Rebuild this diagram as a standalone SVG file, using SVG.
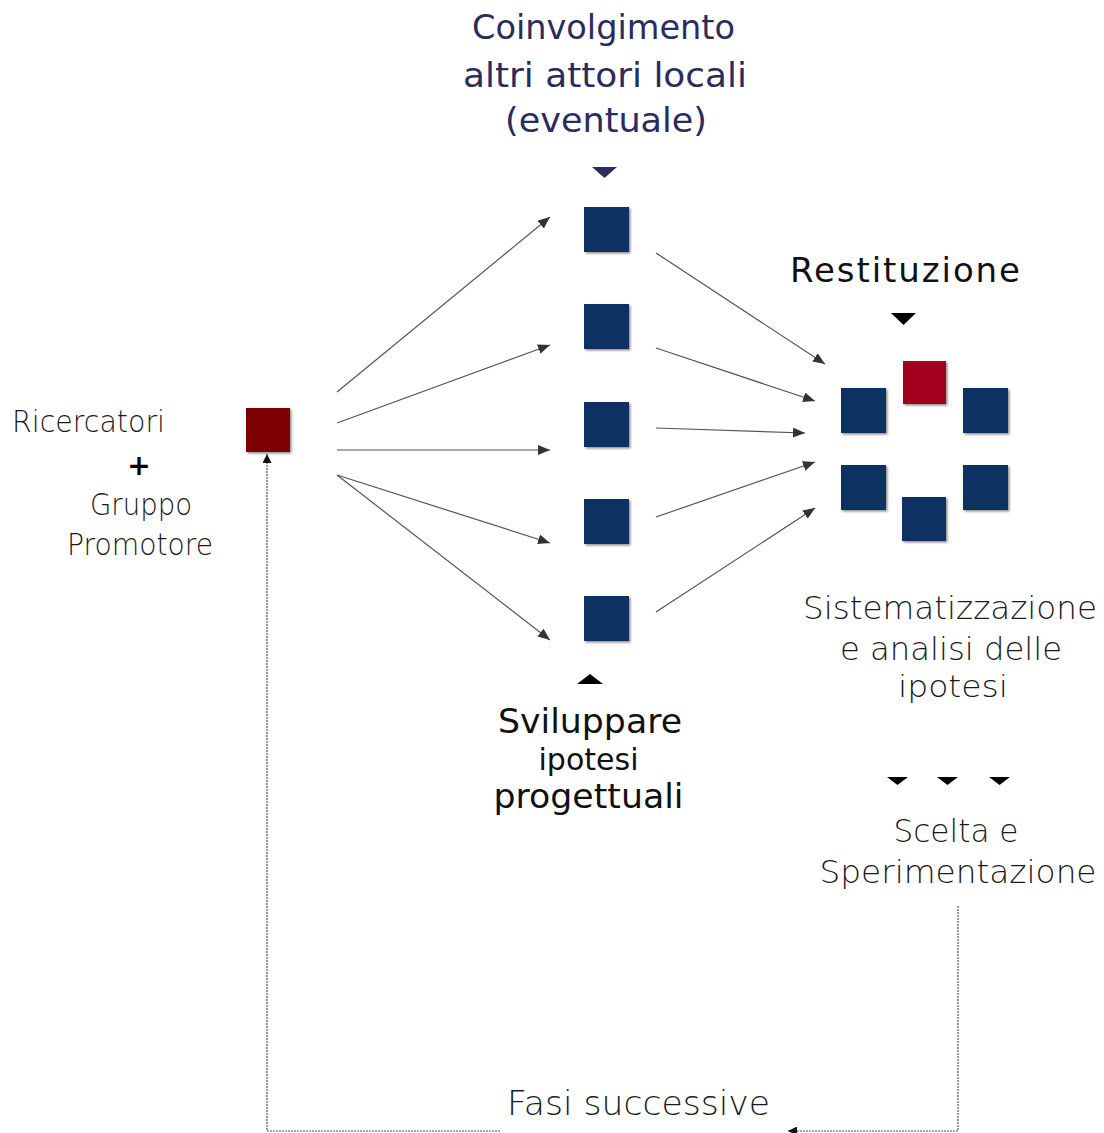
<svg xmlns="http://www.w3.org/2000/svg" width="1104" height="1133" viewBox="0 0 1104 1133">
<style>
.navy{fill:#2b2b60;font-family:"DejaVu Sans",sans-serif;font-size:33px;text-anchor:middle}
.reg{fill:#111;font-family:"DejaVu Sans",sans-serif;font-size:34px;text-anchor:middle}
.thin{fill:#1a1a1a;font-family:"DejaVu Sans",sans-serif;font-weight:200;font-size:32px;text-anchor:middle}
.blue{fill:#073262}
.arr{stroke:#555;stroke-width:1.2;fill:none}
.dot{stroke:#555;stroke-width:1.2;fill:none;stroke-dasharray:2 1}
</style>
<defs>
<filter id="sh" x="-10%" y="-10%" width="130%" height="130%">
<feDropShadow dx="1.5" dy="1.5" stdDeviation="1" flood-color="#000" flood-opacity="0.45"/>
</filter>
<marker id="ah" viewBox="0 0 12 10" refX="12" refY="5" markerWidth="12" markerHeight="10" markerUnits="userSpaceOnUse" orient="auto">
<path d="M0,0 L12,5 L0,10 Z" fill="#333"/>
</marker>
<marker id="ahs" viewBox="0 0 10 10" refX="10" refY="5" markerWidth="10" markerHeight="9" markerUnits="userSpaceOnUse" orient="auto">
<path d="M0,0 L10,5 L0,10 Z" fill="#111"/>
</marker>
</defs>

<g id="connectors">
<line class="arr" x1="337" y1="392" x2="550" y2="217" marker-end="url(#ah)"/>
<line class="arr" x1="337" y1="423" x2="550" y2="345" marker-end="url(#ah)"/>
<line class="arr" x1="337" y1="450" x2="550" y2="450" marker-end="url(#ah)"/>
<line class="arr" x1="337" y1="475" x2="550" y2="543" marker-end="url(#ah)"/>
<line class="arr" x1="337" y1="475" x2="550" y2="640" marker-end="url(#ah)"/>
<line class="arr" x1="656" y1="253" x2="825" y2="364" marker-end="url(#ah)"/>
<line class="arr" x1="656" y1="348" x2="815" y2="401" marker-end="url(#ah)"/>
<line class="arr" x1="656" y1="428" x2="805" y2="433" marker-end="url(#ah)"/>
<line class="arr" x1="656" y1="517" x2="815" y2="462" marker-end="url(#ah)"/>
<line class="arr" x1="656" y1="612" x2="815" y2="508" marker-end="url(#ah)"/>
<polyline class="dot" points="500,1131 267,1131 267,454" marker-end="url(#ahs)"/>
<polyline class="dot" points="958,906 958,1131 788,1131" marker-end="url(#ahs)"/>
</g>

<g id="markers">
<path d="M592,167 L617,167 L604.5,178 Z" fill="#2b2b60"/>
<path d="M891,313 L916,313 L903.5,325 Z" fill="#000"/>
<path d="M577,684 L603,684 L590,674 Z" fill="#000"/>
<path d="M887,777 L908,777 L897.5,785 Z" fill="#000"/>
<path d="M937,777 L958,777 L947.5,785 Z" fill="#000"/>
<path d="M989,777 L1010,777 L999.5,785 Z" fill="#000"/>
</g>

<g id="node-promotori">
<rect x="246" y="408" width="44" height="44" fill="#7e0000" filter="url(#sh)"/>
</g>
<g id="node-hypotheses">
<rect class="blue" x="584" y="207" width="45" height="45" filter="url(#sh)"/>
<rect class="blue" x="584" y="304" width="45" height="45" filter="url(#sh)"/>
<rect class="blue" x="584" y="402" width="45" height="45" filter="url(#sh)"/>
<rect class="blue" x="584" y="499" width="45" height="45" filter="url(#sh)"/>
<rect class="blue" x="584" y="596" width="45" height="45" filter="url(#sh)"/>
</g>
<g id="node-cluster">
<rect x="903" y="361" width="43" height="43" fill="#a2001f" filter="url(#sh)"/>
<rect class="blue" x="841" y="388" width="45" height="45" filter="url(#sh)"/>
<rect class="blue" x="963" y="388" width="45" height="45" filter="url(#sh)"/>
<rect class="blue" x="841" y="465" width="45" height="45" filter="url(#sh)"/>
<rect class="blue" x="902" y="497" width="44" height="44" filter="url(#sh)"/>
<rect class="blue" x="963" y="465" width="45" height="45" filter="url(#sh)"/>
</g>

<g id="labels">
<text class="navy" x="603.5" y="39" textLength="263" lengthAdjust="spacingAndGlyphs">Coinvolgimento</text>
<text class="navy" x="605" y="87" textLength="284" lengthAdjust="spacingAndGlyphs">altri attori locali</text>
<text class="navy" x="606" y="132" textLength="202" lengthAdjust="spacingAndGlyphs">(eventuale)</text>
<text class="reg" x="905" y="282" textLength="230" lengthAdjust="spacing">Restituzione</text>
<text class="thin" x="88.5" y="432" textLength="153" lengthAdjust="spacingAndGlyphs" style="font-size:30px">Ricercatori</text>
<text x="139" y="475" style="font-family:'DejaVu Sans',sans-serif;font-weight:bold;font-size:28px;text-anchor:middle;fill:#000">+</text>
<text class="thin" x="141" y="515" textLength="102" lengthAdjust="spacingAndGlyphs" style="font-size:30px">Gruppo</text>
<text class="thin" x="140" y="555" textLength="146" lengthAdjust="spacingAndGlyphs" style="font-size:30px">Promotore</text>
<text class="reg" x="590" y="733" textLength="184" lengthAdjust="spacingAndGlyphs">Sviluppare</text>
<text class="reg" x="588.5" y="770" textLength="100" lengthAdjust="spacingAndGlyphs" style="font-size:30px">ipotesi</text>
<text class="reg" x="588.5" y="808" textLength="190" lengthAdjust="spacingAndGlyphs">progettuali</text>
<text class="thin" x="950" y="619" textLength="294" lengthAdjust="spacingAndGlyphs">Sistematizzazione</text>
<text class="thin" x="951" y="660" textLength="222" lengthAdjust="spacingAndGlyphs">e analisi delle</text>
<text class="thin" x="953" y="697" textLength="110" lengthAdjust="spacingAndGlyphs" style="font-size:30px">ipotesi</text>
<text class="thin" x="956" y="842" textLength="125" lengthAdjust="spacingAndGlyphs">Scelta e</text>
<text class="thin" x="958" y="883" textLength="277" lengthAdjust="spacingAndGlyphs">Sperimentazione</text>
<text class="thin" x="638.5" y="1115" textLength="263" lengthAdjust="spacingAndGlyphs" style="font-size:34px">Fasi successive</text>
</g>
</svg>
